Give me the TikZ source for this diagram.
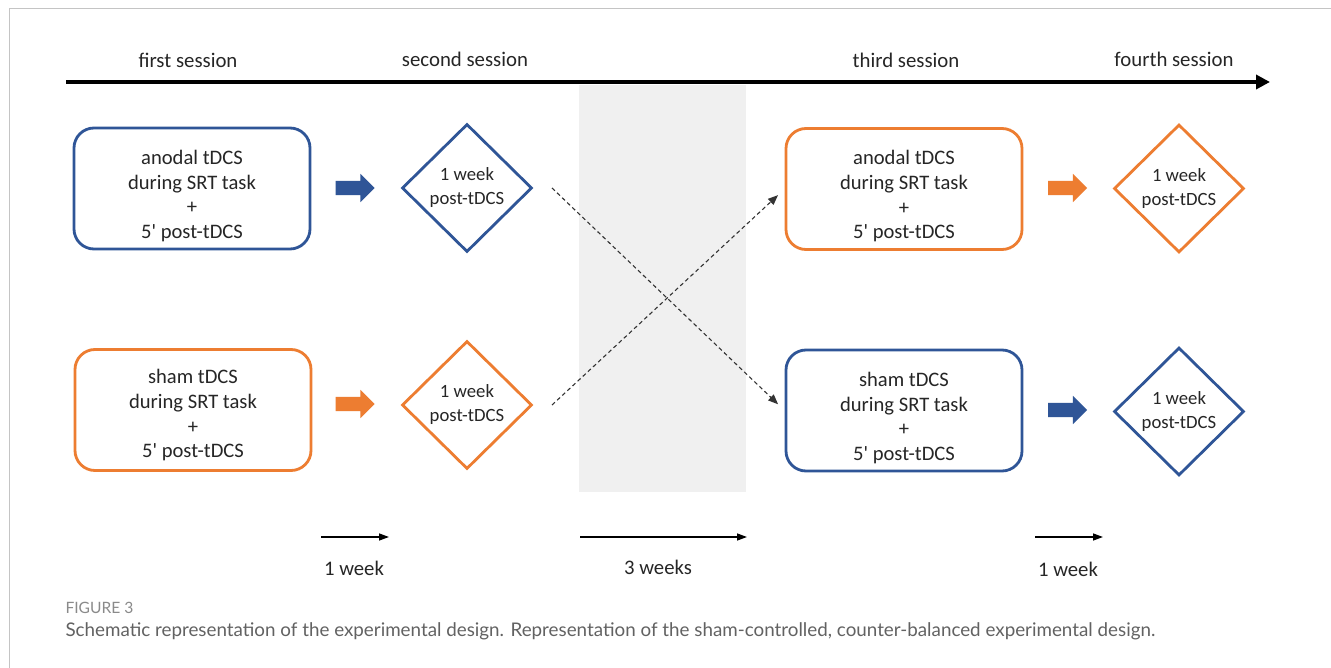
\documentclass[tikz,border=0pt]{standalone}
\usepackage{fontspec}
\setmainfont{Carlito}[Ligatures=TeXOff]
\newfontfamily\capfont{Lato}
\usetikzlibrary{shapes.geometric,shapes.arrows,arrows.meta}
\definecolor{dblue}{HTML}{2F5597}
\definecolor{dorange}{HTML}{ED7D31}
\definecolor{band}{HTML}{F0F0F0}
\definecolor{framegray}{HTML}{C4C4C4}
\definecolor{capgray}{HTML}{626262}
\definecolor{figgray}{HTML}{8A8A8A}
\newcommand{\lwrtext}[2][-8pt]{\raisebox{#1}[\height][\depth]{\begin{tabular}{@{}c@{}}#2\end{tabular}}}
\tikzset{
  x=1pt, y=-1pt,
  sessbox/.style={draw=#1, line width=2.8pt, rounded corners=20pt, minimum width=236pt, minimum height=121pt, font=\fontsize{20.6}{24.7}\selectfont, text=black!85},
  weekdia/.style={diamond, draw=#1, line width=2.8pt, minimum width=130pt, minimum height=128pt, inner sep=0pt, align=center, font=\fontsize{18.7}{24}\selectfont, text=black!85},
  blockarrow/.style={single arrow, fill=#1, draw=none, minimum height=39pt, single arrow head extend=7pt, single arrow head indent=0pt, inner xsep=0pt, inner ysep=7pt, shape border rotate=0},
  sesslabel/.style={font=\fontsize{20.8}{24}\selectfont, text=black!85},
  weeklabel/.style={font=\fontsize{20.7}{24}\selectfont, text=black!85},
  crossarrow/.style={dash pattern=on 4pt off 3pt, line width=1.1pt, black!80, shorten >=9pt, -{Triangle[width=8pt,length=10pt]}},
  timearrow/.style={line width=1.3pt, -{Triangle[width=7pt,length=10pt]}}
}
\begin{document}
\begin{tikzpicture}
\useasboundingbox (0,0) rectangle (1331,668);
\fill[white] (0,0) rectangle (1331,668);
% frame
\draw[framegray, line width=1pt] (9,668) -- (9,9) -- (1331,9);
% gray band
\fill[band] (579,85) rectangle (746,492);
% timeline
\coordinate (tl0) at (66,82);
\coordinate (tl1) at (1270,82);
\draw[line width=4pt, -{Triangle[width=14pt,length=14pt]}] (tl0) -- (tl1);
\node[sesslabel] (s1) at (188,60) {first session};
\node[sesslabel] (s2) at (465,59) {second session};
\node[sesslabel] (s3) at (906,60) {third session};
\node[sesslabel] (s4) at (1174,59) {fourth session};
% boxes
\node[sessbox=dblue] (b1) at (192,188.5) {\lwrtext{anodal tDCS\\during SRT task\\+\\5' post-tDCS}};
\node[sessbox=dorange] (b2) at (193,410) {\lwrtext[-6pt]{sham tDCS\\during SRT task\\+\\5' post-tDCS}};
\node[sessbox=dorange] (b3) at (904,189) {\lwrtext{anodal tDCS\\during SRT task\\+\\5' post-tDCS}};
\node[sessbox=dblue] (b4) at (904,410.5) {\lwrtext{sham tDCS\\during SRT task\\+\\5' post-tDCS}};
% diamonds
\node[weekdia=dblue] (d1) at (467,188) {1 week\\post-tDCS};
\node[weekdia=dorange] (d2) at (467,405) {1 week\\post-tDCS};
\node[weekdia=dorange] (d3) at (1179,188.5) {1 week\\post-tDCS};
\node[weekdia=dblue] (d4) at (1179,411.5) {1 week\\post-tDCS};
% block arrows
\node[blockarrow=dblue] (a1) at (351.5,188) {};
\node[blockarrow=dorange] (a2) at (351.5,404) {};
\node[blockarrow=dorange] (a3) at (1064,188) {};
\node[blockarrow=dblue] (a4) at (1064,410) {};
% crossing dashed arrows
\coordinate (c1s) at (552,188);
\coordinate (c2s) at (552,405);
\draw[crossarrow] (c1s) -- (b4.west);
\draw[crossarrow] (c2s) -- (b3.west);
% bottom week arrows
\coordinate (w1a) at (321,537); \coordinate (w1b) at (389,537);
\coordinate (w2a) at (580,537); \coordinate (w2b) at (747,537);
\coordinate (w3a) at (1035,537); \coordinate (w3b) at (1103,537);
\draw[timearrow] (w1a) -- (w1b);
\draw[timearrow] (w2a) -- (w2b);
\draw[timearrow] (w3a) -- (w3b);
\node[weeklabel] (l1) at (354,568) {1 week};
\node[weeklabel] (l2) at (658,567) {3 weeks};
\node[weeklabel] (l3) at (1068,569) {1 week};
% caption
\node[anchor=west, font=\capfont\fontsize{15.6}{18}\selectfont, text=figgray] (fig) at (62,608) {FIGURE 3};
\node[anchor=west, font=\capfont\fontsize{18.8}{22}\selectfont, text=capgray] (cap) at (62,631) {Schematic representation of the experimental design. Representation of the sham-controlled, counter-balanced experimental design.};
\end{tikzpicture}
\end{document}
